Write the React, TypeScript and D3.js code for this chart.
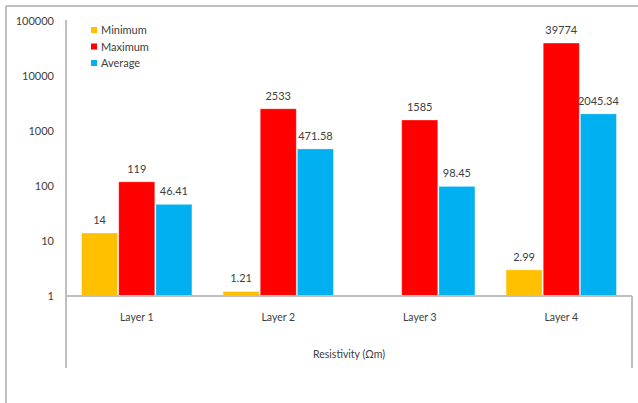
import React from "react";
import * as d3 from "d3";

const categories = ["Layer 1", "Layer 2", "Layer 3", "Layer 4"];
const seriesNames = ["Minimum", "Maximum", "Average"];
const minimumValues: (number | null)[] = [14, 1.21, null, 2.99];
const maximumValues: (number | null)[] = [119, 2533, 1585, 39774];
const averageValues: (number | null)[] = [46.41, 471.58, 98.45, 2045.34];
const seriesColors = ["#FFC000", "#FF0000", "#00B0F0"];
const yTicks = [1, 10, 100, 1000, 10000, 100000];
const axisTitle = "Resistivity (Ωm)";

const W = 638;
const H = 403;
const FONT = "Lato, 'Liberation Sans', sans-serif";
const TEXT = "#404040";
const GRID = "#BFBFBF";

export default function App() {
  const series = [minimumValues, maximumValues, averageValues];
  const left = 66;
  const right = 632;
  const top = 21;
  const bottom = 296;

  const y = d3.scaleLog().domain([1, 100000]).range([bottom, top]);
  const x = d3.scaleBand<string>().domain(categories).range([left, right]).paddingInner(0.22).paddingOuter(0.11);
  const inner = d3.scaleBand<number>().domain([0, 1, 2]).range([0, x.bandwidth()]).paddingInner(0.03);

  const fmt = (v: number) => String(v);

  return (
    <svg width={W} height={H} style={{ position: "absolute", left: 0, top: 0, display: "block", background: "#fff" }}>
      <rect x={0} y={0} width={W} height={H} fill="#fff" />
      {/* outer frame */}
      <line x1={6} x2={W} y1={6} y2={6} stroke={GRID} strokeWidth={2} />
      <line x1={6} x2={6} y1={6} y2={H} stroke={GRID} strokeWidth={2} />

      {/* bars */}
      {categories.map((c, ci) =>
        series.map((s, si) => {
          const v = s[ci];
          if (v == null) return null;
          const bx = (x(c) ?? 0) + (inner(si) ?? 0);
          const bw = inner.bandwidth();
          const by = y(v);
          return (
            <g key={`${ci}-${si}`}>
              <rect x={bx} y={by} width={bw} height={bottom - by} fill={seriesColors[si]} stroke="#fff" strokeOpacity={0.4} strokeWidth={0.8} />
              <text x={bx + bw / 2} y={by - 9} textAnchor="middle" fontFamily={FONT} fontSize={11} fill={TEXT}>
                {fmt(v)}
              </text>
            </g>
          );
        })
      )}

      {/* y axis */}
      <line x1={left} x2={left} y1={top - 1} y2={368} stroke={GRID} strokeWidth={2} />
      {yTicks.map((t) => (
        <text key={t} x={54} y={y(t) + 4} textAnchor="end" fontFamily={FONT} fontSize={11} fill={TEXT}>
          {t}
        </text>
      ))}

      {/* x axis */}
      <line x1={left} x2={right} y1={bottom} y2={bottom} stroke={GRID} strokeWidth={2} />
      <line x1={right} x2={right} y1={bottom} y2={368} stroke={GRID} strokeWidth={2} />
      {categories.map((c) => (
        <text key={c} x={(x(c) ?? 0) + x.bandwidth() / 2} y={321} textAnchor="middle" fontFamily={FONT} fontSize={10.5} fill={TEXT}>
          {c}
        </text>
      ))}
      <text x={(left + right) / 2} y={358} textAnchor="middle" fontFamily={FONT} fontSize={10.5} fill={TEXT}>
        {axisTitle}
      </text>

      {/* legend */}
      {seriesNames.map((n, i) => (
        <g key={n}>
          <rect x={91} y={27 + i * 16.5} width={6} height={6} fill={seriesColors[i]} />
          <text x={101} y={34 + i * 16.5} fontFamily={FONT} fontSize={11} fill={TEXT}>
            {n}
          </text>
        </g>
      ))}
    </svg>
  );
}
